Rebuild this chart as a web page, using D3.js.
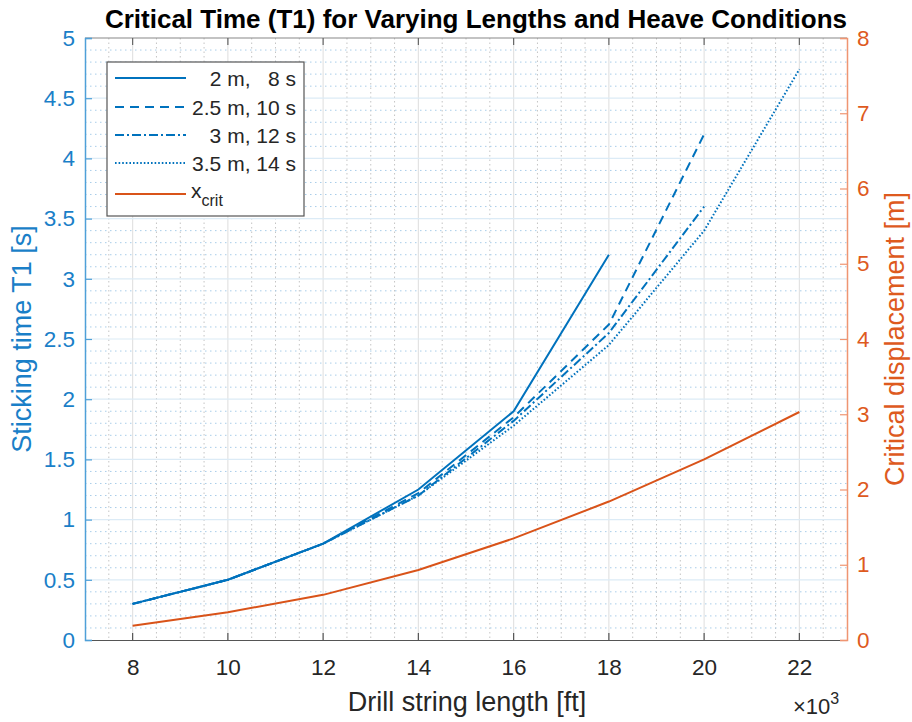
<!DOCTYPE html>
<html>
<head>
<meta charset="utf-8">
<script src="https://cdn.jsdelivr.net/npm/d3@7"></script>
<style>
  body { margin: 0; background: #fff; }
  text { font-family: "Liberation Sans", Arial, sans-serif; }
</style>
</head>
<body>
<svg></svg>
<script>
// drill string length in thousands of ft
const lengths = [8, 10, 12, 14, 16, 18, 20, 22];
// sticking time T1 [s] for each heave condition
const t1_2m = [0.3, 0.5, 0.8, 1.25, 1.9, 3.2];
const t1_25m = [0.3, 0.5, 0.8, 1.22, 1.85, 2.62, 4.2];
const t1_3m = [0.3, 0.5, 0.8, 1.2, 1.82, 2.55, 3.6];
const t1_35m = [0.3, 0.5, 0.8, 1.2, 1.78, 2.45, 3.4, 4.74];
// critical displacement [m]
const xcrit = [0.19, 0.37, 0.6, 0.93, 1.35, 1.84, 2.4, 3.03];

const xTicks = [8, 10, 12, 14, 16, 18, 20, 22];
const yLeftTicks = [0, 0.5, 1, 1.5, 2, 2.5, 3, 3.5, 4, 4.5, 5];
const yRightTicks = [0, 1, 2, 3, 4, 5, 6, 7, 8];
const seriesNames = ["  2 m,   8 s", "2.5 m, 10 s", "  3 m, 12 s", "3.5 m, 14 s"];

const width = 912, height = 722;
const pL = 85, pR = 847, pT = 38, pB = 640;
const blue = "#0072BD", orange = "#D95319";
const tickFont = 22.5;

const svg = d3.select("svg").attr("width", width).attr("height", height);

const x = d3.scaleLinear().domain([7, 23]).range([pL, pR]);
const yL = d3.scaleLinear().domain([0, 5]).range([pB, pT]);
const yR = d3.scaleLinear().domain([0, 8]).range([pB, pT]);

// minor grid
const xMinor = d3.range(7.5, 23, 0.5).filter(v => v % 2 !== 0);
const yMinor = d3.range(1, 50).filter(v => v % 5 !== 0).map(v => v / 10);

svg.append("g").selectAll("line").data(xMinor).enter().append("line")
    .attr("x1", d => x(d)).attr("x2", d => x(d))
    .attr("y1", pT).attr("y2", pB)
    .attr("stroke", "#c4c4c4").attr("stroke-width", 1)
    .attr("stroke-dasharray", "1.5,3");

svg.append("g").selectAll("line").data(yMinor).enter().append("line")
    .attr("x1", pL).attr("x2", pR)
    .attr("y1", d => yL(d)).attr("y2", d => yL(d))
    .attr("stroke", "#a9cde9").attr("stroke-width", 1)
    .attr("stroke-dasharray", "1.5,3.5");

// major grid
svg.append("g").selectAll("line").data(xTicks).enter().append("line")
    .attr("x1", d => x(d)).attr("x2", d => x(d))
    .attr("y1", pT).attr("y2", pB)
    .attr("stroke", "#e3e3e3").attr("stroke-width", 1.2);

svg.append("g").selectAll("line").data(yLeftTicks.slice(1, -1)).enter().append("line")
    .attr("x1", pL).attr("x2", pR)
    .attr("y1", d => yL(d)).attr("y2", d => yL(d))
    .attr("stroke", "#dcebf6").attr("stroke-width", 1.2);

// axes
const tick = 7;
const xAxis = d3.axisBottom(x).tickValues(xTicks).tickSize(0).tickPadding(19).tickFormat(d3.format("d"));
const gx = svg.append("g").attr("transform", `translate(0,${pB})`).call(xAxis);
gx.select(".domain").attr("stroke", "#555").attr("stroke-width", 1.2);
gx.selectAll("text").attr("fill", "#262626").attr("font-size", tickFont);

// inward ticks bottom and top
svg.append("g").selectAll("line").data(xTicks).enter().append("line")
    .attr("x1", d => x(d)).attr("x2", d => x(d))
    .attr("y1", pB).attr("y2", pB - tick)
    .attr("stroke", "#555").attr("stroke-width", 1.2);
svg.append("line").attr("x1", pL).attr("x2", pR).attr("y1", pT).attr("y2", pT)
    .attr("stroke", "#888").attr("stroke-width", 1.2);
svg.append("g").selectAll("line").data(xTicks).enter().append("line")
    .attr("x1", d => x(d)).attr("x2", d => x(d))
    .attr("y1", pT).attr("y2", pT + tick)
    .attr("stroke", "#666").attr("stroke-width", 1.2);

const yAxisL = d3.axisLeft(yL).tickValues(yLeftTicks).tickSize(-tick).tickPadding(10).tickFormat(d3.format("~g"));
const gyl = svg.append("g").attr("transform", `translate(${pL},0)`).call(yAxisL);
gyl.select(".domain").attr("stroke", "#4fa0d8").attr("stroke-width", 1.5);
gyl.selectAll(".tick line").attr("stroke", "#4fa0d8").attr("stroke-width", 1.2);
gyl.selectAll("text").attr("fill", "#1a7fc8").attr("font-size", tickFont);

const yAxisR = d3.axisRight(yR).tickValues(yRightTicks).tickSize(-tick).tickPadding(10).tickFormat(d3.format("d"));
const gyr = svg.append("g").attr("transform", `translate(${pR},0)`).call(yAxisR);
gyr.select(".domain").attr("stroke", "#ef9572").attr("stroke-width", 1.5);
gyr.selectAll(".tick line").attr("stroke", "#ef9572").attr("stroke-width", 1.2);
gyr.selectAll("text").attr("fill", "#de5a1e").attr("font-size", tickFont);

// data lines
const lineL = d3.line().x((d, i) => x(lengths[i])).y(d => yL(d));
const lineR = d3.line().x((d, i) => x(lengths[i])).y(d => yR(d));
const dashes = [null, "9,6", "9,3,2,3", "1.6,2"];
const allT1 = [t1_2m, t1_25m, t1_3m, t1_35m];

allT1.forEach((s, k) => {
    svg.append("path").datum(s)
        .attr("d", lineL)
        .attr("fill", "none")
        .attr("stroke", blue)
        .attr("stroke-width", 2)
        .attr("stroke-dasharray", dashes[k]);
});
svg.append("path").datum(xcrit)
    .attr("d", lineR)
    .attr("fill", "none")
    .attr("stroke", orange)
    .attr("stroke-width", 2);

// legend
const lg = svg.append("g").attr("transform", "translate(107,62)");
lg.append("rect").attr("width", 197).attr("height", 154)
    .attr("fill", "#fff").attr("stroke", "#555").attr("stroke-width", 1.2);
const rows = [16, 45, 73, 101, 132];
allT1.forEach((s, k) => {
    lg.append("line").attr("x1", 8).attr("x2", 79).attr("y1", rows[k]).attr("y2", rows[k])
        .attr("stroke", blue).attr("stroke-width", 2).attr("stroke-dasharray", dashes[k]);
    lg.append("text").attr("x", 189).attr("y", rows[k] + 8)
        .attr("text-anchor", "end").attr("font-size", 21).attr("fill", "#262626")
        .attr("xml:space", "preserve")
        .text(seriesNames[k]);
});
lg.append("line").attr("x1", 8).attr("x2", 79).attr("y1", rows[4]).attr("y2", rows[4])
    .attr("stroke", orange).attr("stroke-width", 2);
const xt = lg.append("text").attr("x", 84).attr("y", rows[4] + 4)
    .attr("font-size", 21).attr("fill", "#262626");
xt.append("tspan").text("x");
xt.append("tspan").attr("dy", 8).attr("font-size", 16).text("crit");

// title and labels
svg.append("text").attr("x", 476).attr("y", 28).attr("text-anchor", "middle")
    .attr("font-size", 26).attr("font-weight", "bold").attr("fill", "#000")
    .text("Critical Time (T1) for Varying Lengths and Heave Conditions");

svg.append("text").attr("x", 467).attr("y", 711).attr("text-anchor", "middle")
    .attr("font-size", 27).attr("fill", "#262626")
    .text("Drill string length [ft]");

const ex = svg.append("text").attr("x", 793).attr("y", 714)
    .attr("font-size", 22).attr("fill", "#262626");
ex.append("tspan").text("\u00d710");
ex.append("tspan").attr("dy", -10).attr("font-size", 16).text("3");

svg.append("text")
    .attr("transform", `translate(31,${(pT + pB) / 2}) rotate(-90)`)
    .attr("text-anchor", "middle").attr("font-size", 27).attr("fill", "#1a7fc8")
    .text("Sticking time T1 [s]");

svg.append("text")
    .attr("transform", `translate(904,${(pT + pB) / 2}) rotate(-90)`)
    .attr("text-anchor", "middle").attr("font-size", 27).attr("fill", "#de5a1e")
    .text("Critical displacement [m]");
</script>
</body>
</html>
